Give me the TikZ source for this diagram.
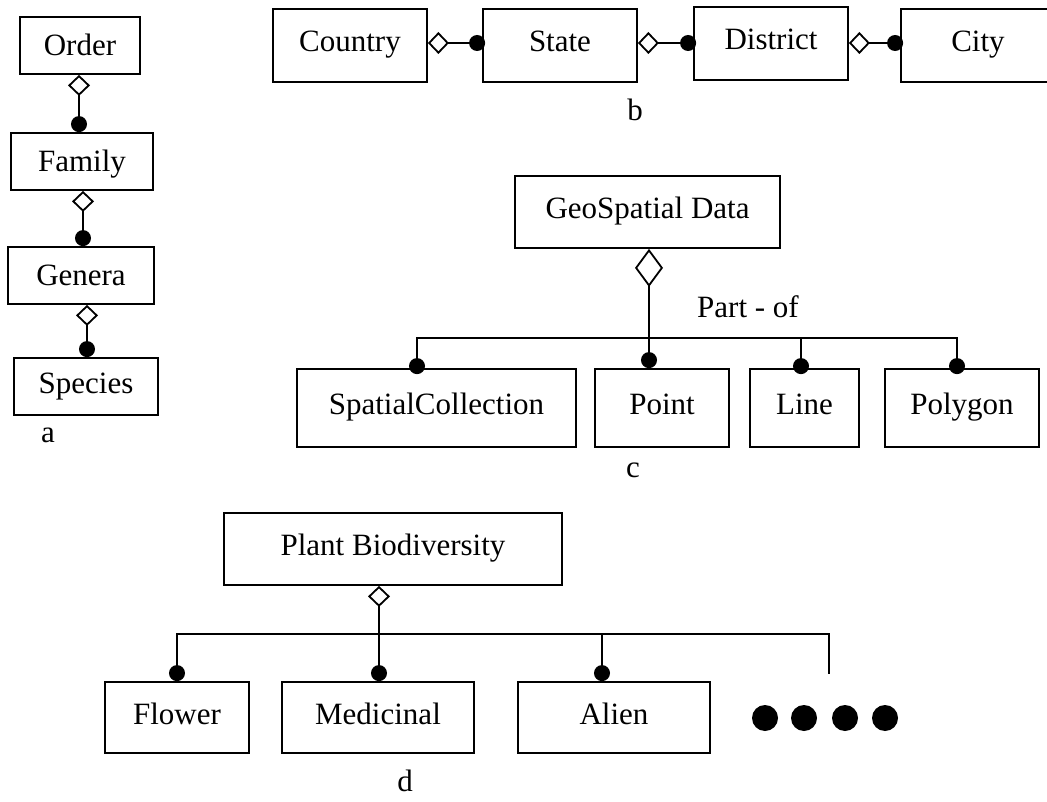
\documentclass[tikz,border=0pt]{standalone}
\usepackage{fontspec}
\setmainfont{Liberation Serif}
\usetikzlibrary{arrows.meta}
\begin{document}
\begin{tikzpicture}[x=1pt,y=-1pt,
  every node/.style={font=\fontsize{31}{36}\selectfont},
  box/.style={draw, rectangle, line width=1.8pt, inner sep=0pt, text height=20pt, text depth=7pt},
  tallbox/.style={box, text height=22pt, text depth=2pt},
  link/.style={line width=1.8pt, line cap=rect},
  agg/.style={link, {Diamond[open,length=21pt,width=22pt]}-{Circle[length=16pt]}},
  bigagg/.style={link, {Diamond[open,length=38pt,width=28pt]}-{Circle[length=16pt]}},
  dotend/.style={link, -{Circle[length=16pt]}},
  bigdot/.style={circle, fill, inner sep=0pt, minimum size=26pt},
  lbl/.style={inner sep=0pt}
]
\useasboundingbox (0,0) rectangle (1047,802);

% (a) taxonomy chain
\node[tallbox, minimum width=120pt, minimum height=57pt] (order)   at (80,45.5)   {Order};
\node[tallbox, minimum width=142pt, minimum height=57pt] (family)  at (82,161.5)  {Family};
\node[tallbox, minimum width=146pt, minimum height=57pt] (genera)  at (81,275.5)  {Genera};
\node[box, minimum width=144pt, minimum height=57pt] (species) at (86,386.5)  {Species};
\coordinate (xa1) at (79,0);
\coordinate (xa2) at (83,0);
\coordinate (xa3) at (87,0);
\draw[agg] (order.south -| xa1)  -- (family.north -| xa1);
\draw[agg] (family.south -| xa2) -- (genera.north -| xa2);
\draw[agg] (genera.south -| xa3) -- (species.north -| xa3);
\node[lbl] (la) at (48,435) {a};

% (b) administrative chain
\node[box, minimum width=154pt, minimum height=73pt] (country)  at (350,45.5) {Country};
\node[box, minimum width=154pt, minimum height=73pt] (state)    at (560,45.5) {State};
\node[box, minimum width=154pt, minimum height=73pt] (district) at (771,43.5) {District};
\node[box, minimum width=154pt, minimum height=73pt] (city)     at (978,45.5) {City};
\coordinate (yb) at (0,43);
\draw[agg, shorten >=-3pt] (country.east |- yb)  -- (state.west |- yb);
\draw[agg, shorten >=-3pt] (state.east |- yb)    -- (district.west |- yb);
\draw[agg, shorten >=-3pt] (district.east |- yb) -- (city.west |- yb);
\node[lbl] (lb) at (635,110) {b};

% (c) geospatial part-of tree
\node[box, minimum width=265pt, minimum height=72pt] (geo)     at (647.5,212) {GeoSpatial Data};
\node[box, minimum width=279pt, minimum height=78pt] (sc)      at (436.5,408) {SpatialCollection};
\node[box, minimum width=134pt, minimum height=78pt] (point)   at (662,408)   {Point};
\node[box, minimum width=109pt, minimum height=78pt] (line)    at (804.5,408) {Line};
\node[box, minimum width=154pt, minimum height=78pt] (polygon) at (962,408)   {Polygon};
\coordinate (cbarL) at (417,338);
\coordinate (cbarR) at (957,338);
\coordinate (cxP)   at (649,0);
\coordinate (cLine) at (801,338);
\draw[bigagg] (geo.south -| cxP) -- (point.north -| cxP);
\draw[link] (cbarL) -- (cbarR);
\draw[dotend, shorten >=-6pt] (cbarL) -- (sc.north -| cbarL);
\draw[dotend, shorten >=-6pt] (cLine) -- (line.north -| cLine);
\draw[dotend, shorten >=-6pt] (cbarR) -- (polygon.north -| cbarR);
\node[lbl] (partof) at (748,307) {Part - of};
\node[lbl] (lc) at (633,470) {c};

% (d) plant biodiversity tree
\node[box, minimum width=338pt, minimum height=72pt] (plant)     at (393,549)   {Plant Biodiversity};
\node[box, minimum width=144pt, minimum height=71pt] (flower)    at (177,717.5) {Flower};
\node[box, minimum width=192pt, minimum height=71pt] (medicinal) at (378,717.5) {Medicinal};
\node[box, minimum width=192pt, minimum height=71pt] (alien)     at (614,717.5) {Alien};
\coordinate (dbarL) at (177,634);
\coordinate (dbarR) at (829,634);
\coordinate (dxM)   at (379,0);
\coordinate (dAl)   at (602,634);
\coordinate (dEnd)  at (829,673);
\draw[agg] (plant.south -| dxM) -- (medicinal.north -| dxM);
\draw[link] (dbarL) -- (dbarR);
\draw[dotend] (dbarL) -- (flower.north -| dbarL);
\draw[dotend] (dAl) -- (alien.north -| dAl);
\draw[link] (dbarR) -- (dEnd);
\node[bigdot] (more1) at (765,718) {};
\node[bigdot] (more2) at (804,718) {};
\node[bigdot] (more3) at (845,718) {};
\node[bigdot] (more4) at (885,718) {};
\node[lbl] (ld) at (405,781) {d};
\end{tikzpicture}
\end{document}
